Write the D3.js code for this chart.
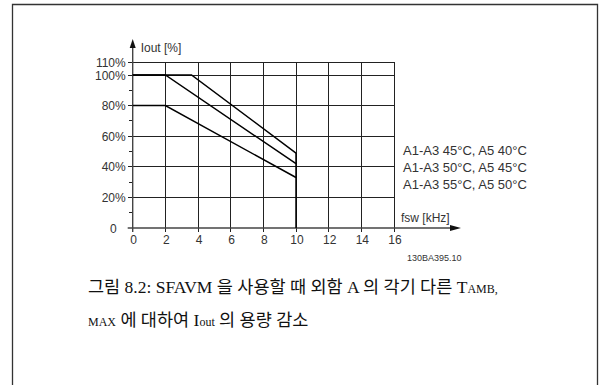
<!DOCTYPE html>
<html>
<head>
<meta charset="utf-8">
<script src="https://cdn.jsdelivr.net/npm/d3@7"></script>
<style>
  body { margin: 0; background: #fff; }
  svg { display: block; }
  .tick-label { font-family: "Liberation Sans", Arial, sans-serif; font-size: 12px; fill: #333; }
  .caption { font-family: "Liberation Serif", "Noto Sans CJK KR", serif; font-size: 17.5px; fill: #111; }
</style>
</head>
<body>
<div id="chart"></div>
<script>
// derating curves: fsw [kHz] vs Iout [%]
const series45 = [[0, 100], [3.6, 100], [10, 49]];
const series50 = [[0, 100], [2, 100], [10, 42]];
const series55 = [[0, 80], [2, 80], [10, 33]];
const legendLabels = ["A1-A3 45°C, A5 40°C", "A1-A3 50°C, A5 45°C", "A1-A3 55°C, A5 50°C"];

const xTicks = [0, 2, 4, 6, 8, 10, 12, 14, 16];
// top gridline is labelled 110% but sits a bit lower in the drawing
const yTicks = [0, 20, 40, 60, 80, 100, 108.2];
const yTickLabels = ["0", "20%", "40%", "60%", "80%", "100%", "110%"];
const yMinorTicks = [10, 30, 50, 70, 90];
const dropAt = 10;

const W = 606, H = 385;
const svg = d3.select("#chart").append("svg").attr("width", W).attr("height", H);

const x = d3.scaleLinear().domain([0, 16]).range([132.7, 394]);
const y = d3.scaleLinear().domain([0, 100]).range([228, 75]);

// page frame
svg.append("path")
  .attr("d", `M12.5,${H} V4.5 H597.5 V${H}`)
  .attr("fill", "none").attr("stroke", "#333").attr("stroke-width", 1.3);

// grid
const grid = svg.append("g").attr("stroke", "#222").attr("stroke-width", 1).attr("shape-rendering", "crispEdges");
grid.selectAll(".gx").data(xTicks.slice(1)).enter().append("line")
  .attr("x1", d => x(d)).attr("x2", d => x(d))
  .attr("y1", y(0) + 4).attr("y2", y(108.2));
grid.selectAll(".gy").data(yTicks.slice(1)).enter().append("line")
  .attr("x1", x(0) - 5).attr("x2", x(16))
  .attr("y1", d => y(d)).attr("y2", d => y(d));

// minor ticks on y axis
grid.selectAll(".my").data(yMinorTicks).enter().append("line")
  .attr("x1", x(0) - 4).attr("x2", x(0))
  .attr("y1", d => y(d)).attr("y2", d => y(d));

// axes with arrows
const ax = svg.append("g").attr("stroke", "#444").attr("stroke-width", 1.4);
ax.append("line").attr("x1", x(0) - 5).attr("x2", 452).attr("y1", y(0)).attr("y2", y(0));
ax.append("line").attr("x1", x(0)).attr("x2", x(0)).attr("y1", y(0) + 4).attr("y2", 47);
svg.append("path").attr("d", `M${x(0)},39 L${x(0) - 3},48 L${x(0) + 3},48 Z`).attr("fill", "#111");
svg.append("path").attr("d", `M461,${y(0)} L450,${y(0) - 3} L450,${y(0) + 3} Z`).attr("fill", "#111");

// tick labels
svg.selectAll(".xl").data(xTicks).enter().append("text")
  .attr("class", "tick-label")
  .attr("x", d => x(d) + 1).attr("y", y(0) + 16)
  .attr("text-anchor", "middle")
  .text(d => d);

svg.selectAll(".yl").data(yTicks).enter().append("text")
  .attr("class", "tick-label")
  .attr("x", d => d === 0 ? x(0) - 16 : x(0) - 7)
  .attr("y", d => y(d) + 4.5)
  .attr("text-anchor", "end")
  .text((d, i) => yTickLabels[i]);

svg.append("text").attr("class", "tick-label").attr("x", x(0) + 8).attr("y", 52).text("Iout [%]");
svg.append("text").attr("class", "tick-label").attr("x", 401).attr("y", 222).text("fsw [kHz]");
svg.append("text").attr("class", "tick-label").style("font-size", "9px")
  .attr("x", 407).attr("y", 261).text("130BA395.10");

// curves
const line = d3.line().x(d => x(d[0])).y(d => y(d[1]));
svg.selectAll(".curve").data([series45, series50, series55]).enter().append("path")
  .attr("d", line).attr("fill", "none").attr("stroke", "#000").attr("stroke-width", 1.5);
svg.append("line")
  .attr("x1", x(dropAt)).attr("x2", x(dropAt))
  .attr("y1", y(series45[series45.length - 1][1])).attr("y2", y(0))
  .attr("stroke", "#000").attr("stroke-width", 1.5);

// legend
svg.selectAll(".lg").data(legendLabels).enter().append("text")
  .attr("class", "tick-label").style("font-size", "13px")
  .attr("x", 403).attr("y", (d, i) => [155, 171.5, 188.5][i])
  .text(d => d);

// caption
const cap1 = svg.append("text").attr("class", "caption").attr("x", 88).attr("y", 293);
cap1.append("tspan").text("그림 8.2: SFAVM 을 사용할 때 외함 A 의 각기 다른 T");
cap1.append("tspan").style("font-size", "12px").text("AMB,");
const cap2 = svg.append("text").attr("class", "caption").attr("x", 88).attr("y", 326);
cap2.append("tspan").style("font-size", "12px").text("MAX");
cap2.append("tspan").text(" 에 대하여 I");
cap2.append("tspan").style("font-size", "12px").text("out");
cap2.append("tspan").text(" 의 용량 감소");
</script>
</body>
</html>
